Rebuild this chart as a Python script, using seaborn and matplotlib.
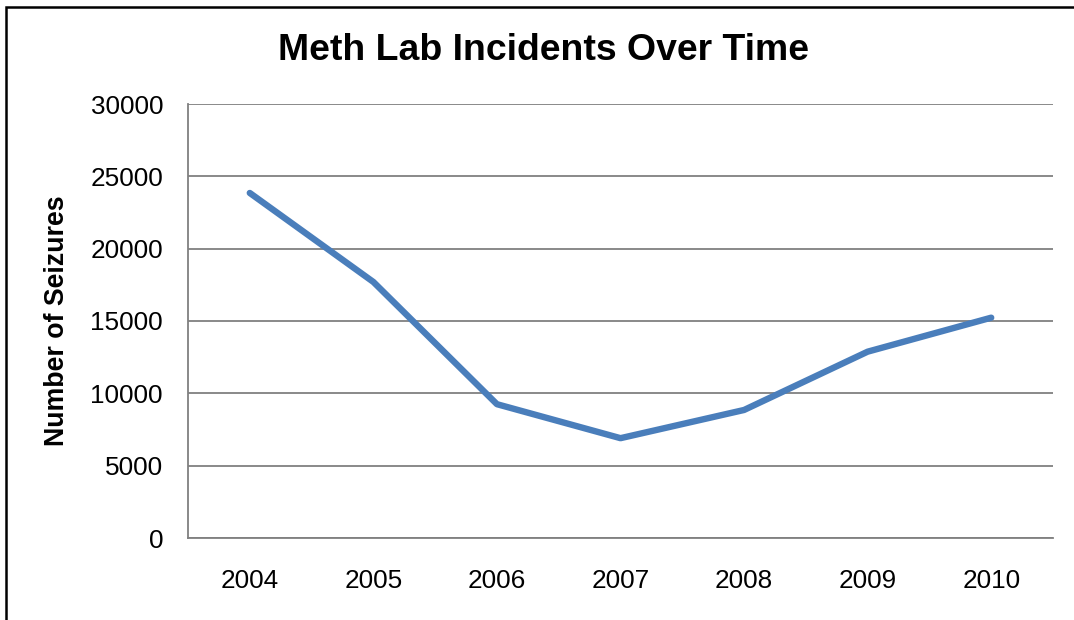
import matplotlib
matplotlib.use("Agg")
import matplotlib.pyplot as plt
import seaborn as sns
import pandas as pd
from matplotlib.patches import Rectangle

years = ["2004", "2005", "2006", "2007", "2008", "2009", "2010"]
seizures = [23850, 17700, 9250, 6900, 8850, 12880, 15230]
yticks = [0, 5000, 10000, 15000, 20000, 25000, 30000]

sns.set_theme(style="white")
plt.rcParams["font.family"] = ["Liberation Sans", "DejaVu Sans"]

df = pd.DataFrame({"Year": years, "Seizures": seizures})

fig = plt.figure(figsize=(10.74, 6.2), dpi=100)
ax = fig.add_axes([188/1074, 82/620, (1053-188)/1074, (538-104)/620])

sns.lineplot(data=df, x="Year", y="Seizures", ax=ax, color="#4A7EBB",
             linewidth=4.6, sort=False, solid_capstyle="round")

ax.set_xlim(-0.5, 6.5)
ax.set_ylim(0, 30000)
ax.set_yticks(yticks)
ax.set_yticklabels([str(v) for v in yticks])
ax.yaxis.grid(True, color="#808080", linewidth=1.3)
ax.xaxis.grid(False)
ax.set_axisbelow(True)
for s in ["top", "right"]:
    ax.spines[s].set_visible(False)
ax.spines["left"].set_color("#808080")
ax.spines["left"].set_linewidth(1.3)
ax.spines["bottom"].set_color("#808080")
ax.spines["bottom"].set_linewidth(1.3)
ax.tick_params(axis="y", length=0, pad=18, labelsize=18.8, colors="black")
ax.tick_params(axis="x", length=0, pad=22, labelsize=18.8, colors="black")
ax.set_xlabel("")
ax.set_ylabel("Number of Seizures", fontsize=19.3, fontweight="bold", color="black")
ax.yaxis.label.set_va("center")
ax.yaxis.set_label_coords(-131/865, 0.5)

fig.text(544/1074, 1 - 50/620, "Meth Lab Incidents Over Time", ha="center", va="center",
         fontsize=26.9, fontweight="bold", color="black")

fig.patches.append(Rectangle((6/1074, -0.1), 1.2, 1 - 7/620 + 0.1, transform=fig.transFigure,
                             fill=False, edgecolor="black", linewidth=1.8))

fig.savefig("out.png", dpi=100)
